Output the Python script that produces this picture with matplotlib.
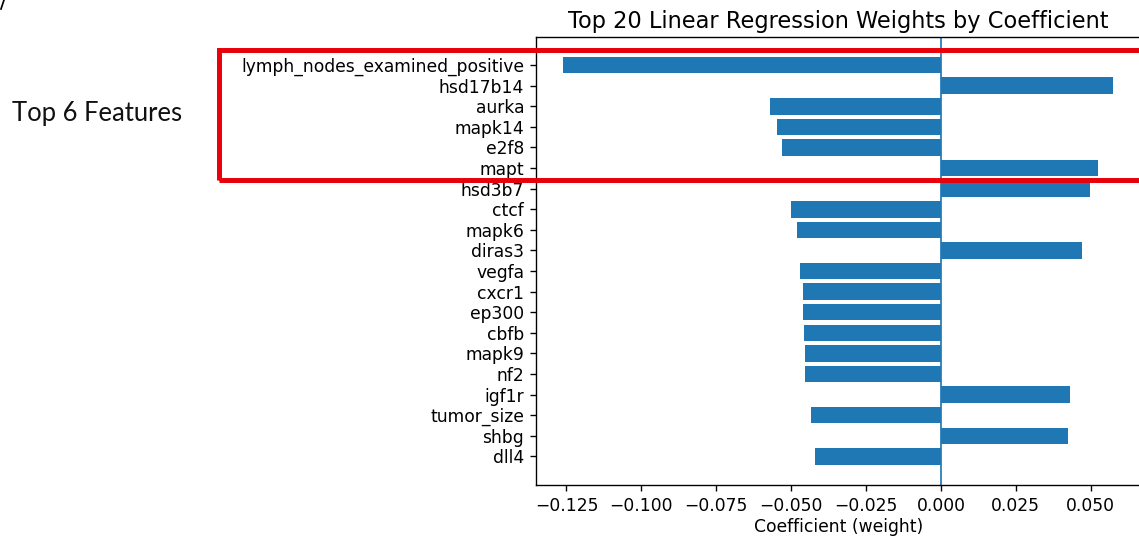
import matplotlib
matplotlib.use("Agg")
import matplotlib.pyplot as plt
from matplotlib.patches import Rectangle
from matplotlib.lines import Line2D

# Top 20 features by absolute linear regression coefficient (top of list = largest)
features = [
    "lymph_nodes_examined_positive", "hsd17b14", "aurka", "mapk14", "e2f8",
    "mapt", "hsd3b7", "ctcf", "mapk6", "diras3", "vegfa", "cxcr1", "ep300",
    "cbfb", "mapk9", "nf2", "igf1r", "tumor_size", "shbg", "dll4",
]
weights = [
    -0.1260, 0.0576, -0.0572, -0.0547, -0.0531,
    0.0524, 0.0499, -0.0502, -0.0482, 0.0471, -0.0470, -0.0461, -0.0461,
    -0.0458, -0.0454, -0.0454, 0.0431, -0.0433, 0.0425, -0.0420,
]

W, H = 1139, 538
DPI = 123
fig = plt.figure(figsize=(W / DPI, H / DPI), dpi=DPI)
ax = fig.add_axes([536 / W, 1 - 485 / H, 605 / W, 448.5 / H])

# plot the smallest at the bottom so the biggest weight ends up on top
ax.barh(features[::-1], weights[::-1], color="#1f77b4")
ax.axvline(0, color="#1f77b4", linewidth=1)
ax.set_title("Top 20 Linear Regression Weights by Coefficient", fontsize=13.2, pad=5)
ax.set_xlabel("Coefficient (weight)", labelpad=2)
ax.set_xticks([-0.125, -0.100, -0.075, -0.050, -0.025, 0.000, 0.025, 0.050])

# highlight box around the six strongest features
fig.patches.append(Rectangle((218.5 / W, 1 - 179.5 / H), 1000 / W, 130 / H,
                             transform=fig.transFigure, fill=False,
                             edgecolor="#e8000b", linewidth=2.9, zorder=10))
fig.text(12 / W, 1 - 114 / H, "Top 6 Features", fontsize=15, family="Lato",
         va="center", ha="left", color="#111111")
fig.lines.append(Line2D([1 / W, 4 / W], [1 - 9 / H, 1.0], transform=fig.transFigure,
                        color="black", linewidth=1.0))

fig.savefig("out.png", dpi=DPI)
